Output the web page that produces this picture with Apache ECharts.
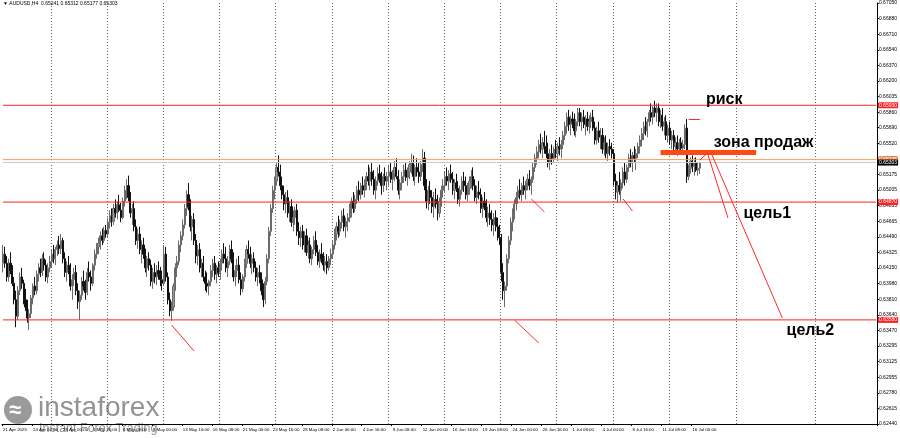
<!DOCTYPE html>
<html><head><meta charset="utf-8">
<script src="https://cdn.jsdelivr.net/npm/echarts@6/dist/echarts.min.js"></script>
<style>html,body{margin:0;padding:0;background:#fff}#c{width:900px;height:438px}</style>
</head><body><div id="c"></div>
<script>
// ---------- DATA ----------
const chartTitle = '\u25BC AUDUSD,H4  0.65241 0.65312 0.65177 0.65303';
const firstBarUTC = [2025, 3, 21, 16];   // 21 Apr 2025 16:00, H4 bars
const slotCount = 467;                   // bars + empty future shift area
// [open, high, low, close]
const ohlc = [
[.6420,.6440,.6410,.6430],[.6430,.6438,.6415,.6420],[.6420,.6428,.6400,.6405],[.6405,.6425,.6400,.6420],[.6420,.6432,.6408,.6412],[.6412,.6418,.6395,.6398],
[.6398,.6405,.6375,.6380],[.6380,.6390,.6350,.6362],[.6362,.6395,.6358,.6390],[.6390,.6410,.6385,.6405],[.6405,.6415,.6392,.6398],[.6398,.6402,.6375,.6380],
[.6380,.6392,.6368,.6372],[.6372,.6380,.6355,.6360],[.6360,.6370,.6347,.6365],[.6365,.6385,.6360,.6382],[.6382,.6398,.6375,.6395],[.6395,.6405,.6385,.6390],
[.6390,.6412,.6386,.6408],[.6408,.6420,.6400,.6415],[.6415,.6425,.6405,.6410],[.6410,.6430,.6406,.6425],[.6425,.6432,.6412,.6418],[.6418,.6424,.6400,.6405],
[.6405,.6420,.6398,.6415],[.6415,.6428,.6410,.6422],
[.6422,.6435,.6415,.6430],[.6430,.6440,.6420,.6425],[.6425,.6438,.6418,.6435],[.6435,.6445,.6428,.6440],[.6440,.6450,.6430,.6436],[.6436,.6452,.6430,.6445],
[.6445,.6448,.6420,.6425],[.6425,.6432,.6405,.6410],[.6410,.6422,.6400,.6418],[.6418,.6428,.6408,.6412],[.6412,.6420,.6390,.6395],[.6395,.6408,.6380,.6402],
[.6402,.6415,.6395,.6410],[.6410,.6418,.6385,.6390],[.6390,.6398,.6370,.6378],[.6378,.6390,.6358,.6385],[.6385,.6405,.6380,.6400],[.6400,.6412,.6390,.6395],
[.6395,.6402,.6380,.6388],[.6388,.6415,.6385,.6410],[.6410,.6422,.6400,.6405],[.6405,.6412,.6390,.6398],[.6398,.6420,.6395,.6418],[.6418,.6435,.6412,.6430],
[.6430,.6442,.6425,.6438],[.6438,.6448,.6430,.6442],[.6442,.6455,.6435,.6450],[.6450,.6458,.6440,.6445],[.6445,.6460,.6442,.6456],[.6456,.6462,.6448,.6452],
[.6452,.6470,.6448,.6465],[.6465,.6478,.6458,.6472],[.6472,.6480,.6460,.6466],[.6466,.6485,.6462,.6480],[.6480,.6490,.6470,.6475],[.6475,.6488,.6468,.6484],
[.6484,.6495,.6476,.6478],[.6478,.6486,.6465,.6470],[.6470,.6492,.6468,.6488],[.6488,.6505,.6482,.6500],[.6500,.6512,.6490,.6505],[.6505,.6516,.6488,.6492],
[.6492,.6498,.6470,.6475],[.6475,.6485,.6462,.6480],[.6480,.6488,.6455,.6460],[.6460,.6468,.6440,.6445],[.6445,.6458,.6436,.6452],[.6452,.6460,.6430,.6435],
[.6435,.6445,.6420,.6440],[.6440,.6448,.6425,.6430],[.6430,.6436,.6410,.6415],[.6415,.6428,.6405,.6425],[.6425,.6432,.6412,.6418],[.6418,.6424,.6395,.6400],
[.6400,.6415,.6392,.6410],[.6410,.6420,.6398,.6405],[.6405,.6418,.6396,.6412],[.6412,.6422,.6402,.6408],[.6408,.6416,.6395,.6402],[.6402,.6412,.6390,.6398],
[.6398,.6440,.6395,.6430],[.6430,.6438,.6400,.6405],[.6405,.6410,.6375,.6380],[.6380,.6388,.6362,.6368],[.6368,.6378,.6357,.6372],[.6372,.6398,.6368,.6395],
[.6395,.6420,.6390,.6415],[.6415,.6428,.6405,.6422],[.6422,.6445,.6418,.6440],[.6440,.6455,.6432,.6450],[.6450,.6468,.6445,.6462],[.6462,.6485,.6458,.6480],
[.6480,.6500,.6472,.6495],[.6495,.6508,.6478,.6482],[.6482,.6490,.6455,.6460],[.6460,.6472,.6445,.6468],[.6468,.6475,.6440,.6445],[.6445,.6452,.6420,.6428],
[.6428,.6440,.6418,.6435],[.6435,.6442,.6410,.6415],[.6415,.6425,.6405,.6420],[.6420,.6428,.6400,.6405],[.6405,.6412,.6390,.6398],[.6398,.6410,.6388,.6395],
[.6395,.6402,.6385,.6400],[.6400,.6418,.6395,.6412],[.6412,.6425,.6405,.6420],[.6420,.6428,.6402,.6408],[.6408,.6418,.6398,.6415],[.6415,.6422,.6405,.6410],
[.6410,.6425,.6402,.6420],[.6420,.6435,.6412,.6430],[.6430,.6442,.6420,.6425],[.6425,.6438,.6410,.6415],[.6415,.6428,.6405,.6422],[.6422,.6440,.6418,.6435],
[.6435,.6445,.6420,.6425],[.6425,.6432,.6400,.6405],[.6405,.6418,.6395,.6412],[.6412,.6425,.6405,.6418],[.6418,.6428,.6398,.6402],[.6402,.6410,.6385,.6392],
[.6392,.6408,.6388,.6405],[.6405,.6425,.6400,.6420],[.6420,.6440,.6415,.6435],[.6435,.6445,.6425,.6430],[.6430,.6438,.6415,.6420],[.6420,.6430,.6408,.6425],
[.6425,.6432,.6410,.6415],[.6415,.6422,.6400,.6405],[.6405,.6415,.6395,.6410],[.6410,.6418,.6398,.6402],[.6402,.6410,.6385,.6390],[.6390,.6398,.6372,.6380],
[.6380,.6405,.6375,.6400],[.6400,.6430,.6396,.6425],[.6425,.6460,.6420,.6455],[.6455,.6485,.6450,.6480],[.6480,.6505,.6475,.6500],[.6500,.6515,.6490,.6510],
[.6510,.6530,.6505,.6525],[.6525,.6538,.6515,.6520],[.6520,.6528,.6500,.6505],[.6505,.6515,.6490,.6495],[.6495,.6505,.6478,.6485],[.6485,.6498,.6475,.6492],
[.6492,.6500,.6470,.6475],[.6475,.6488,.6465,.6482],[.6482,.6490,.6460,.6465],[.6465,.6478,.6455,.6470],[.6470,.6482,.6462,.6478],[.6478,.6485,.6450,.6455],
[.6455,.6465,.6440,.6448],[.6448,.6460,.6438,.6455],[.6455,.6462,.6435,.6440],[.6440,.6455,.6432,.6450],[.6450,.6458,.6428,.6432],[.6432,.6445,.6425,.6440],
[.6440,.6448,.6420,.6425],[.6425,.6438,.6418,.6435],[.6435,.6450,.6430,.6445],[.6445,.6455,.6428,.6432],[.6432,.6440,.6418,.6422],[.6422,.6435,.6415,.6430],
[.6430,.6442,.6420,.6425],[.6425,.6432,.6412,.6418],[.6418,.6428,.6410,.6422],[.6422,.6430,.6408,.6415],[.6415,.6428,.6412,.6425],[.6425,.6436,.6418,.6430],
[.6430,.6445,.6425,.6440],[.6440,.6458,.6435,.6452],[.6452,.6465,.6445,.6460],[.6460,.6472,.6448,.6455],[.6455,.6468,.6450,.6465],[.6465,.6478,.6458,.6472],
[.6472,.6480,.6455,.6460],[.6460,.6470,.6448,.6466],[.6466,.6475,.6455,.6470],[.6470,.6485,.6465,.6480],[.6480,.6492,.6470,.6488],[.6488,.6498,.6475,.6480],
[.6480,.6495,.6476,.6490],[.6490,.6505,.6485,.6500],[.6500,.6510,.6488,.6495],[.6495,.6508,.6490,.6505],[.6505,.6515,.6495,.6500],[.6500,.6512,.6492,.6508],
[.6508,.6520,.6500,.6515],[.6515,.6528,.6505,.6510],[.6510,.6525,.6500,.6520],[.6520,.6530,.6505,.6512],[.6512,.6522,.6495,.6500],[.6500,.6515,.6490,.6510],
[.6510,.6525,.6505,.6518],[.6518,.6528,.6508,.6512],[.6512,.6520,.6495,.6505],[.6505,.6518,.6498,.6515],[.6515,.6525,.6505,.6510],[.6510,.6520,.6500,.6515],
[.6515,.6528,.6505,.6520],[.6520,.6530,.6508,.6512],[.6512,.6522,.6500,.6518],[.6518,.6532,.6510,.6525],[.6525,.6535,.6512,.6515],[.6515,.6522,.6495,.6500],
[.6500,.6512,.6490,.6508],[.6508,.6520,.6500,.6515],[.6515,.6528,.6508,.6522],[.6522,.6530,.6510,.6514],[.6514,.6525,.6505,.6520],[.6520,.6532,.6512,.6528],
[.6528,.6540,.6518,.6530],[.6530,.6538,.6510,.6515],[.6515,.6528,.6505,.6525],[.6525,.6535,.6515,.6520],[.6520,.6530,.6508,.6515],[.6515,.6532,.6510,.6528],
[.6528,.6545,.6520,.6535],[.6535,.6542,.6500,.6505],[.6505,.6512,.6480,.6488],[.6488,.6505,.6478,.6500],[.6500,.6510,.6485,.6492],[.6492,.6500,.6475,.6482],
[.6482,.6498,.6470,.6490],[.6490,.6502,.6480,.6485],[.6485,.6495,.6467,.6475],[.6475,.6492,.6470,.6488],[.6488,.6505,.6482,.6500],[.6500,.6512,.6492,.6505],
[.6505,.6520,.6498,.6515],[.6515,.6525,.6505,.6510],[.6510,.6522,.6500,.6518],[.6518,.6528,.6508,.6512],[.6512,.6520,.6495,.6500],[.6500,.6512,.6490,.6508],
[.6508,.6518,.6498,.6502],[.6502,.6510,.6485,.6490],[.6490,.6505,.6482,.6500],[.6500,.6515,.6495,.6510],[.6510,.6520,.6498,.6505],[.6505,.6515,.6490,.6495],
[.6495,.6508,.6488,.6502],[.6502,.6515,.6495,.6510],[.6510,.6522,.6502,.6515],[.6515,.6525,.6500,.6505],[.6505,.6512,.6488,.6492],[.6492,.6505,.6485,.6498],
[.6498,.6510,.6490,.6495],[.6495,.6502,.6475,.6480],[.6480,.6492,.6470,.6488],[.6488,.6498,.6478,.6482],[.6482,.6490,.6465,.6470],[.6470,.6482,.6460,.6475],
[.6475,.6485,.6462,.6468],[.6468,.6478,.6455,.6462],[.6462,.6475,.6450,.6470],[.6470,.6478,.6455,.6460],[.6460,.6470,.6445,.6452],[.6452,.6462,.6440,.6448],
[.6448,.6452,.6400,.6410],[.6410,.6420,.6380,.6390],[.6390,.6400,.6372,.6395],[.6395,.6430,.6390,.6425],[.6425,.6450,.6420,.6445],[.6445,.6470,.6440,.6465],
[.6465,.6480,.6455,.6475],[.6475,.6490,.6468,.6485],[.6485,.6498,.6478,.6492],[.6492,.6505,.6485,.6500],[.6500,.6512,.6490,.6495],[.6495,.6508,.6488,.6505],
[.6505,.6515,.6495,.6500],[.6500,.6510,.6490,.6508],[.6508,.6518,.6500,.6512],[.6512,.6522,.6500,.6505],[.6505,.6515,.6495,.6512],[.6512,.6530,.6508,.6525],
[.6525,.6540,.6520,.6535],[.6535,.6548,.6528,.6542],[.6542,.6555,.6535,.6550],[.6550,.6562,.6540,.6545],[.6545,.6558,.6535,.6552],[.6552,.6565,.6540,.6548],
[.6548,.6560,.6535,.6540],[.6540,.6552,.6525,.6530],[.6530,.6545,.6522,.6540],[.6540,.6550,.6528,.6535],[.6535,.6548,.6530,.6545],[.6545,.6555,.6535,.6540],
[.6540,.6552,.6532,.6548],[.6548,.6558,.6538,.6545],[.6545,.6555,.6535,.6550],[.6550,.6565,.6545,.6560],[.6560,.6575,.6555,.6570],[.6570,.6585,.6562,.6580],
[.6580,.6588,.6565,.6572],[.6572,.6582,.6560,.6578],[.6578,.6586,.6568,.6575],[.6575,.6584,.6560,.6565],[.6565,.6578,.6558,.6575],[.6575,.6590,.6570,.6585],
[.6585,.6590,.6570,.6575],[.6575,.6585,.6565,.6580],[.6580,.6588,.6568,.6572],[.6572,.6582,.6560,.6578],[.6578,.6586,.6565,.6570],[.6570,.6582,.6562,.6575],
[.6575,.6585,.6568,.6580],[.6580,.6588,.6565,.6568],[.6568,.6575,.6550,.6555],[.6555,.6570,.6550,.6565],[.6565,.6575,.6552,.6558],[.6558,.6568,.6545,.6560],
[.6560,.6568,.6540,.6545],[.6545,.6558,.6538,.6552],[.6552,.6560,.6535,.6540],[.6540,.6552,.6532,.6548],[.6548,.6556,.6538,.6545],[.6545,.6552,.6535,.6540],
[.6540,.6545,.6505,.6510],[.6510,.6518,.6490,.6498],[.6498,.6510,.6486,.6505],[.6505,.6520,.6495,.6500],[.6500,.6512,.6488,.6508],[.6508,.6525,.6502,.6520],
[.6520,.6530,.6505,.6512],[.6512,.6528,.6508,.6525],[.6525,.6540,.6520,.6535],[.6535,.6545,.6525,.6530],[.6530,.6542,.6520,.6538],[.6538,.6548,.6530,.6535],
[.6535,.6545,.6522,.6540],[.6540,.6552,.6535,.6548],[.6548,.6560,.6540,.6555],[.6555,.6568,.6548,.6562],[.6562,.6575,.6555,.6570],[.6570,.6580,.6560,.6565],
[.6565,.6578,.6558,.6575],[.6575,.6588,.6570,.6585],[.6585,.6595,.6575,.6580],[.6580,.6592,.6572,.6590],[.6590,.6598,.6580,.6585],[.6585,.6595,.6575,.6590],
[.6590,.6595,.6570,.6575],[.6575,.6588,.6568,.6582],[.6582,.6590,.6565,.6570],[.6570,.6580,.6560,.6575],[.6575,.6582,.6555,.6560],[.6560,.6572,.6552,.6568],
[.6568,.6575,.6550,.6555],[.6555,.6565,.6545,.6560],[.6560,.6566,.6542,.6548],[.6548,.6558,.6540,.6552],[.6552,.6560,.6538,.6545],[.6545,.6556,.6540,.6552],
[.6552,.6558,.6541,.6546],[.6546,.6555,.6540,.6550],[.6550,.6572,.6545,.6568],[.6568,.6578,.6508,.6515],[.6515,.6528,.6511,.6524],[.6524,.6536,.6518,.6532],
[.6532,.6538,.6520,.6526],[.6526,.6535,.6516,.6530],[.6530,.6536,.6520,.6522],[.6522,.6530,.6516,.6524],[.65241,.65312,.65177,.65303]
];
// right price scale: bottom label, top label, labels bottom->top
const yMin = 0.62440, yMax = 0.67050;
const yTickLabels = ['0.62440','0.62615','0.62780','0.62955','0.63125','0.63295','0.63470','0.63640','0.63810','0.63980',
  '0.64150','0.64325','0.64490','0.64665','0.64835','0.65005','0.65175','0.65350','0.65520','0.65690',
  '0.65860','0.66035','0.66200','0.66370','0.66540','0.66710','0.66880','0.67050'];
// horizontal levels: price, line colour, tag background
const levels = [
  {price: 0.65930, line: '#ff2020', tag: '#ff2020'},
  {price: 0.64870, line: '#ff2020', tag: '#ff2020'},
  {price: 0.63580, line: '#ff2020', tag: '#ff2020'},
  {price: 0.65335, line: '#ff9a5c', tag: '#ff7a33'},
  {price: 0.65303, line: '#c8c8c8', tag: '#000000'}
];
// drawings in data space: [barIndex, price]
const sellZone = [[350.5, 0.65413], [402, 0.65413]];
const riskMark = [[366.0, 0.65780], [372.4, 0.65780]];
const targetLines = [
  [[372.3, 0.65331], [376, 0.65408]],
  [[376, 0.65408], [387.1, 0.64696]],
  [[378.1, 0.65408], [415.7, 0.63601]]
];
const arrowStrokes = [
  [[90.2, 0.63524], [101.9, 0.63239]],
  [[273.3, 0.63579], [285.5, 0.63327]],
  [[282.3, 0.64904], [289.2, 0.64762]],
  [[331.3, 0.64904], [336.0, 0.64773]]
];
const notes = [
  {text: 'риск', at: [384.8, 0.65988]},
  {text: 'зона продаж', at: [406.0, 0.65517]},
  {text: 'цель1', at: [408.0, 0.64740]},
  {text: 'цель2', at: [430.9, 0.63459]}
];

// ---------- BUILD ----------
const MON = ['Jan','Feb','Mar','Apr','May','Jun','Jul','Aug','Sep','Oct','Nov','Dec'];
const cats = [], weekStart = [];
let t = Date.UTC(firstBarUTC[0], firstBarUTC[1], firstBarUTC[2], firstBarUTC[3]);
let prevWd = null;
for (let i = 0; i < slotCount; i++) {
  const d = new Date(t);
  const wd = d.getUTCDay();
  const hh = String(d.getUTCHours()).padStart(2, '0');
  cats.push(i === 0 ? d.getUTCDate() + ' ' + MON[d.getUTCMonth()] + ' ' + d.getUTCFullYear()
                    : d.getUTCDate() + ' ' + MON[d.getUTCMonth()] + ' ' + hh + ':00');
  weekStart.push(prevWd !== null && wd < prevWd);
  prevWd = wd;
  t += 4 * 3600e3;
  if (i < ohlc.length - 1) {
    while ([0, 6].includes(new Date(t).getUTCDay())) t += 24 * 3600e3;
  }
}
const candleData = ohlc.map(b => [b[0], b[3], b[2], b[1]]);
const yStep = (yMax - yMin) / (yTickLabels.length - 1);

function seg(pair, color, width) {
  return [{coord: pair[0], lineStyle: {color, width, type: 'solid'}}, {coord: pair[1]}];
}
const drawLines = [
  seg(sellZone, '#ff4a12', 5),
  seg(riskMark, '#ff2a2a', 1),
  ...targetLines.map(p => seg(p, '#ff2a2a', 1)),
  ...arrowStrokes.map(p => seg(p, '#ff2a2a', 1))
];
const levelSeries = levels.map((lv, k) => ({
  type: 'line', data: [[0, lv.price], [slotCount - 1, lv.price]], z: 3 + (k === 4 ? 1 : 0),
  showSymbol: false, symbol: 'none', silent: true, animation: false,
  lineStyle: {color: lv.line, width: 1, type: 'solid'},
  endLabel: {show: true, formatter: lv.price.toFixed(5), distance: 2, backgroundColor: lv.tag, color: '#fff',
    fontSize: 5, fontFamily: 'Liberation Sans', padding: [1, 1, 0, 1]}
}));

const chart = echarts.init(document.getElementById('c'), null, {renderer: 'canvas'});
chart.setOption({
  animation: false,
  backgroundColor: '#fff',
  grid: {left: 0, right: 19, top: 3, bottom: 14},
  xAxis: {
    type: 'category', data: cats, boundaryGap: true,
    axisLine: {show: true, lineStyle: {color: '#000', width: 1}},
    axisTick: {show: true, length: 2, lineStyle: {color: '#000'}, interval: (i) => i % 16 === 0 && i <= ohlc.length - 1},
    axisLabel: {show: true, interval: (i) => i % 16 === 0 && i <= ohlc.length - 1, align: 'left', margin: 4,
      fontSize: 4.4, color: '#000', fontFamily: 'Liberation Sans'},
    splitLine: {show: true, interval: (i) => weekStart[i], lineStyle: {color: '#666', width: 1, type: [1, 2]}}
  },
  yAxis: {
    type: 'value', position: 'right', min: yMin, max: yMax, interval: yStep,
    axisLine: {show: true, lineStyle: {color: '#000', width: 1}},
    axisTick: {show: true, length: 2, lineStyle: {color: '#000'}},
    axisLabel: {show: true, margin: 2, fontSize: 5, color: '#000', fontFamily: 'Liberation Sans',
      formatter: v => yTickLabels[Math.round((v - yMin) / yStep)] || ''},
    splitLine: {show: false}
  },
  graphic: [
    {type: 'text', left: 3, top: 1, style: {text: chartTitle, fontSize: 5, fill: '#000', fontFamily: 'Liberation Sans'}, z: 100},
    {type: 'group', left: 4, top: 394, z: 100, children: [
      {type: 'circle', shape: {cx: 14, cy: 16, r: 14}, style: {fill: 'rgba(120,120,120,0.75)'}},
      {type: 'text', x: 5, y: 6, style: {text: '≈', fontSize: 22, fill: '#fff', fontWeight: 'bold'}},
      {type: 'text', x: 34, y: 0, style: {text: 'instaforex', fontSize: 28, fill: 'rgba(120,120,120,0.8)', fontFamily: 'Liberation Sans'}},
      {type: 'text', x: 35, y: 28, style: {text: 'Instant Forex Trading', fontSize: 12.5, fill: 'rgba(120,120,120,0.8)', fontFamily: 'Liberation Sans'}}
    ]}
  ],
  series: [
    {
      type: 'candlestick', data: candleData, barWidth: 1.6, z: 2,
      itemStyle: {color: '#9c9c9c', color0: '#111', borderColor: '#6a6a6a', borderColor0: '#111', borderWidth: 1}
    },
    ...levelSeries,
    {
      type: 'line', data: [], z: 5, silent: true,
      markLine: {silent: true, symbol: ['none', 'none'], animation: false, label: {show: false}, data: drawLines},
      markPoint: {silent: true, symbol: 'rect', symbolSize: 0, animation: false,
        data: notes.map(n => ({coord: n.at, label: {show: true, formatter: n.text, fontSize: 16, fontWeight: 'bold',
          color: '#000', fontFamily: 'Liberation Sans', position: 'inside'}}))}
    }
  ]
});
</script></body></html>
